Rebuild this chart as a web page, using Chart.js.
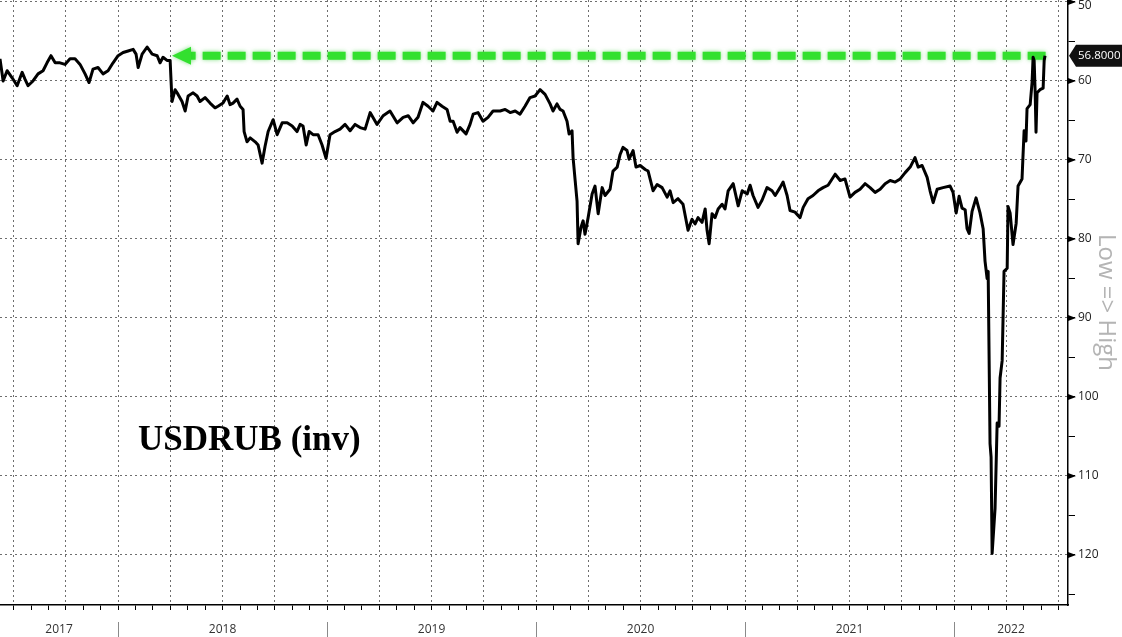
<!DOCTYPE html>
<html>
<head>
<meta charset="utf-8">
<script src="https://cdn.jsdelivr.net/npm/chart.js@4.4.1/dist/chart.umd.min.js"></script>
<style>
  html, body { margin: 0; padding: 0; background: #fff; }
  #wrap { width: 1122px; height: 637px; }
</style>
</head>
<body>
<div id="wrap"><canvas id="usdrub" width="1122" height="637"></canvas></div>
<script>
// dates as decimal years
var dates = [
  2017.435, 2017.450, 2017.469, 2017.493, 2017.517, 2017.541, 2017.555, 2017.569, 2017.593, 2017.617,
  2017.641, 2017.660, 2017.679, 2017.699, 2017.722, 2017.746, 2017.770, 2017.794, 2017.818, 2017.842,
  2017.861, 2017.880, 2017.904, 2017.928, 2017.952, 2017.976, 2018.000, 2018.024, 2018.048, 2018.072,
  2018.086, 2018.096, 2018.115, 2018.139, 2018.163, 2018.187, 2018.201, 2018.215, 2018.234, 2018.249,
  2018.258, 2018.273, 2018.287, 2018.306, 2018.321, 2018.335, 2018.359, 2018.378, 2018.392, 2018.416,
  2018.440, 2018.464, 2018.478, 2018.502, 2018.522, 2018.536, 2018.550, 2018.569, 2018.584, 2018.598,
  2018.603, 2018.617, 2018.632, 2018.656, 2018.670, 2018.689, 2018.703, 2018.718, 2018.742, 2018.761,
  2018.785, 2018.809, 2018.833, 2018.856, 2018.871, 2018.885, 2018.900, 2018.914, 2018.933, 2018.957,
  2018.976, 2018.995, 2019.014, 2019.038,
  2019.062, 2019.086, 2019.110, 2019.134, 2019.158, 2019.182, 2019.206, 2019.239, 2019.268, 2019.301,
  2019.335, 2019.364, 2019.388, 2019.412, 2019.435, 2019.459, 2019.483, 2019.507, 2019.526, 2019.550,
  2019.574, 2019.589, 2019.603, 2019.622, 2019.636, 2019.665, 2019.684, 2019.699, 2019.722, 2019.746,
  2019.770, 2019.794, 2019.828, 2019.852, 2019.876, 2019.900, 2019.923, 2019.947, 2019.971, 2019.995,
  2020.019, 2020.043, 2020.067, 2020.081, 2020.100, 2020.115, 2020.129, 2020.148, 2020.158, 2020.172,
  2020.177, 2020.187, 2020.196, 2020.201, 2020.215, 2020.225, 2020.234, 2020.249, 2020.268, 2020.282,
  2020.297, 2020.316, 2020.330, 2020.354, 2020.368, 2020.388, 2020.402, 2020.416, 2020.435, 2020.445,
  2020.464, 2020.478, 2020.498, 2020.522, 2020.536, 2020.560, 2020.579, 2020.603, 2020.627, 2020.641,
  2020.656, 2020.679,
  2020.703, 2020.727, 2020.746, 2020.761, 2020.775, 2020.794, 2020.809, 2020.818, 2020.828, 2020.842,
  2020.856, 2020.871, 2020.890, 2020.904, 2020.919, 2020.943, 2020.967, 2020.986, 2021.010, 2021.024,
  2021.038, 2021.062, 2021.081, 2021.105, 2021.129, 2021.144, 2021.167, 2021.182, 2021.201, 2021.215,
  2021.239, 2021.263, 2021.278, 2021.301, 2021.325, 2021.349, 2021.373, 2021.397, 2021.431, 2021.455,
  2021.478, 2021.502, 2021.526, 2021.550, 2021.574, 2021.598, 2021.622, 2021.646, 2021.670, 2021.694,
  2021.718, 2021.742, 2021.766, 2021.790, 2021.813, 2021.828, 2021.847, 2021.871,
  2021.885, 2021.900, 2021.919, 2021.947, 2021.981, 2021.995, 2022.010, 2022.024, 2022.038, 2022.053,
  2022.062, 2022.072, 2022.086, 2022.105, 2022.124, 2022.139, 2022.148, 2022.158, 2022.163, 2022.172,
  2022.177, 2022.182, 2022.196, 2022.206, 2022.215, 2022.220, 2022.230, 2022.239, 2022.254, 2022.258,
  2022.268, 2022.282, 2022.297, 2022.306, 2022.325, 2022.330, 2022.335, 2022.344, 2022.349, 2022.364,
  2022.373, 2022.378, 2022.383, 2022.388, 2022.392, 2022.397, 2022.411, 2022.426, 2022.431, 2022.435
];

// USDRUB level (plotted on an inverted axis)
var usdrub = [
  57.2, 60.0, 58.7, 59.6, 60.6, 58.9, 59.8, 60.6, 60.0, 59.1,
  58.7, 57.7, 56.8, 57.7, 57.7, 57.9, 57.2, 57.2, 57.9, 59.1,
  60.2, 58.5, 58.3, 59.1, 58.7, 57.7, 56.8, 56.4, 56.2, 56.0,
  56.6, 58.3, 56.6, 55.7, 56.6, 56.8, 57.7, 57.0, 57.4, 57.4,
  62.6, 61.1, 61.7, 62.6, 63.8, 61.9, 61.5, 61.9, 62.6, 62.1,
  62.8, 63.4, 63.2, 62.8, 61.9, 63.0, 62.8, 62.3, 63.2, 63.6,
  66.4, 67.7, 67.2, 67.7, 68.1, 70.4, 68.3, 66.4, 64.9, 66.8,
  65.3, 65.3, 65.7, 66.4, 65.5, 65.7, 68.1, 66.4, 66.8, 66.8,
  68.1, 69.8, 66.8, 66.4,
  66.1, 65.5, 66.3, 65.5, 65.9, 66.1, 64.0, 65.5, 64.4, 63.8,
  65.3, 64.6, 64.4, 65.3, 64.6, 62.7, 63.2, 63.8, 62.7, 63.2,
  63.6, 65.1, 65.1, 66.5, 65.9, 66.7, 65.5, 64.2, 64.0, 65.1,
  64.6, 63.8, 63.8, 63.6, 64.0, 63.8, 64.2, 63.2, 62.1, 61.9,
  61.1, 61.7, 62.9, 63.8, 62.9, 63.6, 63.8, 65.1, 66.7, 66.3,
  69.7, 72.6, 75.2, 80.6, 78.5, 77.7, 79.4, 77.3, 74.3, 73.3,
  76.8, 73.5, 74.5, 73.7, 71.4, 70.9, 69.3, 68.4, 68.8, 69.9,
  68.8, 70.9, 70.7, 71.2, 71.4, 73.9, 73.1, 73.5, 74.7, 73.9,
  75.4, 74.9,
  75.6, 78.9, 77.5, 78.1, 77.3, 77.9, 76.2, 78.9, 80.6, 76.8,
  77.3, 76.2, 75.6, 76.2, 73.9, 73.0, 75.8, 73.9, 74.3, 73.2,
  74.5, 76.0, 75.1, 73.5, 73.9, 74.5, 73.5, 72.8, 74.5, 76.4,
  76.6, 77.3, 76.0, 74.9, 74.5, 73.9, 73.5, 73.2, 71.8, 72.6,
  72.4, 74.7, 74.1, 73.7, 73.0, 73.5, 74.1, 73.7, 73.0, 72.6,
  72.8, 72.4, 71.6, 70.9, 69.7, 70.9, 70.7, 72.2,
  73.9, 75.4, 73.7, 73.5, 73.3, 74.1, 76.7, 74.6, 76.1, 76.3,
  78.7, 79.3, 76.5, 74.8, 76.7, 78.7, 82.8, 85.0, 84.1, 105.9,
  107.6, 119.8, 114.1, 103.3, 103.7, 97.6, 95.4, 84.1, 83.7, 75.9,
  76.7, 80.7, 78.0, 73.3, 72.4, 69.3, 66.3, 67.6, 63.5, 63.0,
  60.2, 57.0, 57.4, 61.5, 66.5, 61.5, 61.1, 60.9, 57.4, 56.8
];

var yearLabels = ['2017', '2018', '2019', '2020', '2021', '2022'];
var yTickValues = [50, 55, 60, 65, 70, 75, 80, 85, 90, 95, 100, 105, 110, 115, 120, 125];
var lastValue = 56.8;
var arrowFrom = 2022.438;   // right end of green arrow
var arrowTo = 2018.258;     // arrow tip
var seriesName = 'USDRUB (inv)';
var axisTitle = 'Low => High';

Chart.defaults.font.family = 'Open Sans';

function isQuarter(v) { return Math.round(v * 12) % 3 === 0; }

var extras = {
  id: 'extras',
  beforeDatasetsDraw: function (chart) {
    var ctx = chart.ctx, xs = chart.scales.x, ys = chart.scales.y;
    var yy = ys.getPixelForValue(lastValue);
    var x0 = xs.getPixelForValue(arrowFrom), x1 = xs.getPixelForValue(arrowTo);
    ctx.save();
    ctx.shadowColor = 'rgba(30,200,30,0.55)';
    ctx.shadowBlur = 4;
    ctx.strokeStyle = '#33e02f';
    ctx.fillStyle = '#33e02f';
    ctx.lineWidth = 8;
    ctx.setLineDash([18, 7]);
    ctx.beginPath();
    ctx.moveTo(x0, yy);
    ctx.lineTo(x1 + 18, yy);
    ctx.stroke();
    ctx.setLineDash([]);
    ctx.beginPath();
    ctx.moveTo(x1, yy);
    ctx.lineTo(x1 + 19, yy - 9);
    ctx.lineTo(x1 + 19, yy + 9);
    ctx.closePath();
    ctx.fill();
    ctx.restore();
  },
  afterDraw: function (chart) {
    var ctx = chart.ctx, xs = chart.scales.x, ys = chart.scales.y, area = chart.chartArea;
    ctx.save();

    // triangles on the major y ticks
    ctx.fillStyle = '#000';
    yTickValues.forEach(function (v) {
      if (v % 10 !== 0) return;
      var p = ys.getPixelForValue(v);
      ctx.beginPath();
      ctx.moveTo(area.right, p - 3);
      ctx.lineTo(area.right + 8, p);
      ctx.lineTo(area.right, p + 3);
      ctx.closePath();
      ctx.fill();
    });

    // top tick label, nudged down so it is not cut by the canvas edge
    ctx.fillStyle = '#222';
    ctx.font = '12px "Open Sans"';
    ctx.textAlign = 'left';
    ctx.textBaseline = 'middle';
    ctx.fillText(String(yTickValues[0]), area.right + 10, Math.max(ys.getPixelForValue(yTickValues[0]), 6));

    // last value box
    var yy = ys.getPixelForValue(lastValue);
    var bx = area.right + 1;
    ctx.fillStyle = '#111';
    ctx.beginPath();
    ctx.moveTo(bx, yy);
    ctx.lineTo(bx + 7, yy - 11);
    ctx.lineTo(chart.width, yy - 11);
    ctx.lineTo(chart.width, yy + 11);
    ctx.lineTo(bx + 7, yy + 11);
    ctx.closePath();
    ctx.fill();
    ctx.fillStyle = '#fff';
    ctx.font = '11.5px "Open Sans"';
    ctx.fillText(lastValue.toFixed(4), bx + 9, yy + 0.5);

    // year bands under the x axis
    ctx.font = '12px "Open Sans"';
    ctx.textAlign = 'center';
    ctx.fillStyle = '#333';
    ctx.strokeStyle = '#8a8a8a';
    ctx.lineWidth = 1;
    yearLabels.forEach(function (lab) {
      var yr = +lab;
      var a = Math.max(yr, xs.min), b = Math.min(yr + 1, xs.max);
      var pa = xs.getPixelForValue(a), pb = xs.getPixelForValue(b);
      ctx.fillText(lab, (pa + pb) / 2, area.bottom + 25);
      if (yr > xs.min) {
        ctx.beginPath();
        ctx.moveTo(Math.round(pa) + 0.5, area.bottom + 17);
        ctx.lineTo(Math.round(pa) + 0.5, chart.height);
        ctx.stroke();
      }
    });

    // series label
    ctx.fillStyle = '#000';
    ctx.font = 'bold 35px "Liberation Serif"';
    ctx.textAlign = 'left';
    ctx.textBaseline = 'alphabetic';
    ctx.fillText(seriesName, area.left + 138, area.top + 450);
    ctx.restore();
  }
};

new Chart(document.getElementById('usdrub').getContext('2d'), {
  type: 'line',
  data: {
    datasets: [{
      label: seriesName,
      data: dates.map(function (d, i) { return { x: d, y: usdrub[i] }; }),
      borderColor: '#000',
      borderWidth: 3,
      pointRadius: 0,
      tension: 0,
      fill: false,
      borderJoinStyle: 'round'
    }]
  },
  options: {
    responsive: false,
    animation: false,
    devicePixelRatio: 1,
    events: [],
    layout: { padding: 0 },
    plugins: { legend: { display: false }, tooltip: { enabled: false } },
    scales: {
      x: {
        type: 'linear',
        min: 2017.435,
        max: 2022.545,
        afterBuildTicks: function (s) {
          var t = [];
          for (var m = Math.ceil(s.min * 12); m <= Math.floor(s.max * 12); m++) t.push({ value: m / 12 });
          s.ticks = t;
        },
        ticks: { display: false },
        grid: {
          color: function (c) { return c.tick && isQuarter(c.tick.value) ? '#6e6e6e' : 'rgba(0,0,0,0)'; },
          tickColor: '#000',
          tickLength: 5,
          lineWidth: 1
        },
        border: { color: '#000', width: 1.5, dash: [2, 3] },
        afterFit: function (s) {
          s.height = 32;
          s.paddingLeft = 0; s.paddingRight = 0;
        }
      },
      y: {
        position: 'right',
        reverse: true,
        min: 49.75,
        max: 126.33,
        afterBuildTicks: function (s) {
          s.ticks = yTickValues.map(function (v) { return { value: v }; });
        },
        ticks: {
          // the top label is drawn by the plugin
          callback: function (v) { return v % 10 === 0 && v !== yTickValues[0] ? String(v) : ''; },
          color: '#222',
          font: { size: 12 },
          padding: 3
        },
        grid: {
          color: function (c) { return c.tick && c.tick.value % 10 === 0 ? '#6e6e6e' : 'rgba(0,0,0,0)'; },
          tickColor: '#000',
          tickLength: 7,
          lineWidth: 1
        },
        border: { color: '#000', width: 1.5, dash: [2, 3] },
        title: {
          display: true,
          text: axisTitle,
          color: '#b4b4b4',
          font: { size: 24 },
          padding: { top: 2, bottom: 0 }
        },
        afterFit: function (s) {
          s.width = 54;
          s.paddingTop = 0; s.paddingBottom = 0;
        }
      }
    }
  },
  plugins: [extras]
});
</script>
</body>
</html>
